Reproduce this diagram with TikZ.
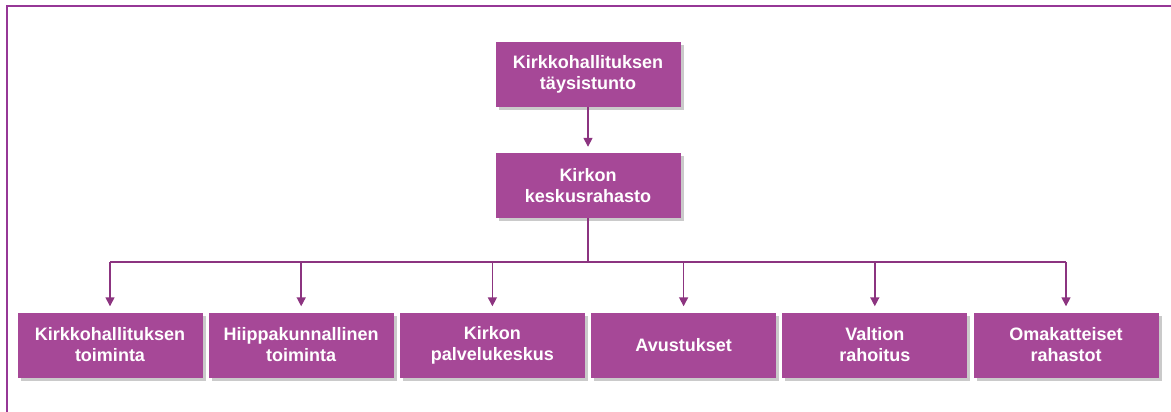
\documentclass[tikz,border=0pt]{standalone}
\usepackage{fontspec}
\setmainfont{Liberation Sans}
\usetikzlibrary{arrows.meta,shadows,positioning}
\definecolor{luumu}{RGB}{166,72,151}
\definecolor{luumutumma}{RGB}{140,52,128}
\definecolor{kehys}{RGB}{150,55,150}

\tikzset{
  laatikko/.style={fill=luumu, minimum width=185pt, minimum height=65pt,
    text width=170pt, align=center, text=white,
    font=\bfseries\fontsize{18}{21}\selectfont,
    drop shadow={shadow xshift=3pt, shadow yshift=-3pt, opacity=0.35, fill=black!60}},
  viiva/.style={luumutumma, line width=1.5pt},
  nuoli/.style={viiva, -{Triangle[width=9pt,length=9pt]}, shorten >=6pt}
}

\begin{document}
\begin{tikzpicture}[x=1pt,y=-1pt]
\useasboundingbox (0,0) rectangle (1171,412);

% kehys
\draw [kehys, line width=2pt] (6.5,430) -- (6.5,6.5) -- (1190,6.5);

% ylimmat laatikot
\node [laatikko] (tays) at (588,74.5) {Kirkkohallituksen\\täysistunto};
\node [laatikko] (ksr) at (588,185.5) {Kirkon\\keskusrahasto};

% alarivi
\node [laatikko] (kht)  at (110,345)   {Kirkkohallituksen\\toiminta};
\node [laatikko] (hiip) at (301.2,345) {Hiippakunnallinen\\toiminta};
\node [laatikko] (kpk)  at (492.4,345) {Kirkon\\palvelukeskus};
\node [laatikko] (avu)  at (683.6,345) {Avustukset};
\node [laatikko] (valt) at (874.8,345) {Valtion\\rahoitus};
\node [laatikko] (omak) at (1066,345)  {Omakatteiset\\rahastot};

\coordinate (haara) at (588,262);

\draw [nuoli] (tays) -- (ksr);
\draw [viiva] (ksr) -- (haara);
\draw [viiva] (haara -| kht) -- (haara -| omak);
\foreach \n in {kht,hiip,kpk,avu,valt,omak}
  \draw [nuoli] (haara -| \n) -- (\n.north);

\end{tikzpicture}
\end{document}
